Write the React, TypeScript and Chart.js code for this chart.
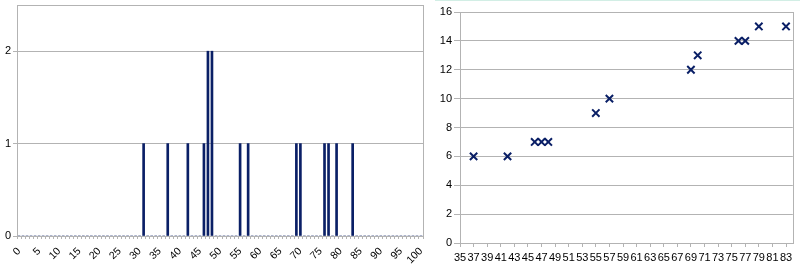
import React, { useEffect, useRef } from "react";
import { Chart, registerables } from "chart.js";

Chart.register(...registerables);

// ---- Left chart: histogram of values (count per integer value 0..100)
const histMin = 0;
const histMax = 100;
const histValues = [31, 37, 42, 46, 47, 48, 55, 57, 69, 70, 76, 77, 79, 83];
const histCounts = [1, 1, 1, 1, 2, 2, 1, 1, 1, 1, 1, 1, 1, 1];
const histLabelStep = 5;
const histYTicks = [0, 1, 2];
const histYMax = 2.5;

// ---- Right chart: scatter
const scatterX = [37, 42, 46, 47, 48, 55, 57, 69, 70, 76, 77, 79, 83];
const scatterY = [6, 6, 7, 7, 7, 9, 10, 12, 13, 14, 14, 15, 15];
const scatterXTicks = [35, 37, 39, 41, 43, 45, 47, 49, 51, 53, 55, 57, 59, 61, 63, 65, 67, 69, 71, 73, 75, 77, 79, 81, 83];
const scatterXMin = 35;
const scatterXMax = 84;
const scatterYTicks = [0, 2, 4, 6, 8, 10, 12, 14, 16];

const NAVY = "#0a1f66";
const GRID = "#b3b3b3";
const FONT = "'Liberation Sans', Arial, sans-serif";

const framePlugin = {
  id: "frame",
  afterDraw(chart: any) {
    const { ctx, chartArea } = chart;
    ctx.save();
    ctx.strokeStyle = GRID;
    ctx.lineWidth = 1;
    ctx.strokeRect(
      Math.round(chartArea.left) + 0.5,
      Math.round(chartArea.top) + 0.5,
      Math.round(chartArea.right - chartArea.left),
      Math.round(chartArea.bottom - chartArea.top)
    );
    ctx.restore();
  },
};

function HistChart() {
  const ref = useRef<HTMLCanvasElement>(null);
  useEffect(() => {
    const categories: string[] = [];
    for (let v = histMin; v <= histMax; v++) categories.push(String(v));
    const counts = categories.map((c) => {
      const i = histValues.indexOf(Number(c));
      return i >= 0 ? histCounts[i] : 0;
    });
    const chart = new Chart(ref.current!, {
      type: "bar",
      data: {
        labels: categories,
        datasets: [
          {
            data: counts,
            backgroundColor: NAVY,
            borderWidth: 0,
            barThickness: 2,
          },
        ],
      },
      plugins: [framePlugin],
      options: {
        animation: false,
        responsive: false,
        layout: { padding: { top: 5, right: 2, left: 0, bottom: 0 } },
        plugins: { legend: { display: false }, tooltip: { enabled: false } },
        scales: {
          x: {
            type: "category",
            offset: true,
            grid: {
              display: true,
              drawOnChartArea: false,
              drawTicks: true,
              tickLength: 3,
              color: GRID,
              offset: true,
            },
            border: { display: true, color: GRID },
            ticks: {
              autoSkip: false,
              minRotation: 45,
              maxRotation: 45,
              padding: 6,
              color: "#000",
              font: { size: 10.5, family: FONT },
              callback: (_v: any, i: number) =>
                (i + histMin) % histLabelStep === 0 ? categories[i] : "",
            },
            afterFit: (s: any) => {
              s.height = 30;
              s.paddingLeft = 0;
              s.paddingRight = 0;
            },
          },
          y: {
            min: 0,
            max: histYMax,
            afterBuildTicks: (s: any) => {
              s.ticks = histYTicks.map((v) => ({ value: v }));
            },
            grid: { color: GRID, tickLength: 4 },
            border: { display: true, color: GRID },
            ticks: {
              padding: 2,
              color: "#000",
              font: { size: 11, family: FONT },
            },
            afterFit: (s: any) => {
              s.width = 17;
              s.paddingTop = 0;
              s.paddingBottom = 0;
            },
          },
        },
      },
    });
    return () => chart.destroy();
  }, []);
  return <canvas ref={ref} width={425} height={266} />;
}

function ScatterChart() {
  const ref = useRef<HTMLCanvasElement>(null);
  useEffect(() => {
    const pts = scatterX.map((x, i) => ({ x, y: scatterY[i] }));
    const chart = new Chart(ref.current!, {
      type: "scatter",
      data: {
        datasets: [
          {
            data: pts,
            pointStyle: "crossRot",
            pointRadius: 5.2,
            pointBorderWidth: 2,
            borderColor: NAVY,
            backgroundColor: NAVY,
          },
        ],
      },
      plugins: [framePlugin],
      options: {
        animation: false,
        responsive: false,
        layout: { padding: { top: 12, right: 5, left: 0, bottom: 0 } },
        plugins: { legend: { display: false }, tooltip: { enabled: false } },
        scales: {
          x: {
            type: "linear",
            min: scatterXMin,
            max: scatterXMax,
            afterBuildTicks: (s: any) => {
              s.ticks = scatterXTicks.map((v) => ({ value: v }));
            },
            grid: {
              drawOnChartArea: false,
              drawTicks: true,
              tickLength: 4,
              color: GRID,
            },
            border: { display: true, color: GRID },
            ticks: {
              autoSkip: false,
              maxRotation: 0,
              minRotation: 0,
              padding: 4,
              color: "#000",
              font: { size: 11, family: FONT },
            },
            afterFit: (s: any) => {
              s.height = 23;
              s.paddingLeft = 0;
              s.paddingRight = 0;
            },
          },
          y: {
            min: 0,
            max: 16,
            afterBuildTicks: (s: any) => {
              s.ticks = scatterYTicks.map((v) => ({ value: v }));
            },
            grid: { color: GRID, tickLength: 6 },
            border: { display: true, color: GRID },
            ticks: {
              padding: 2,
              color: "#000",
              font: { size: 11, family: FONT },
            },
            afterFit: (s: any) => {
              s.width = 35;
              s.paddingTop = 0;
              s.paddingBottom = 0;
            },
          },
        },
      },
    });
    return () => chart.destroy();
  }, []);
  return <canvas ref={ref} width={375} height={266} />;
}

export default function App() {
  return (
    <div
      style={{
        position: "fixed",
        left: 0,
        top: 0,
        width: 800,
        height: 266,
        background: "#fff",
        overflow: "hidden",
      }}
    >
      <div style={{ position: "absolute", left: 0, top: 0, width: 425, height: 266 }}>
        <HistChart />
      </div>
      <div style={{ position: "absolute", left: 425, top: 0, width: 375, height: 266 }}>
        <ScatterChart />
      </div>
      <div
        style={{
          position: "absolute",
          left: 435,
          top: 0,
          width: 365,
          height: 1,
          background: "#d2eee5",
        }}
      />
    </div>
  );
}
